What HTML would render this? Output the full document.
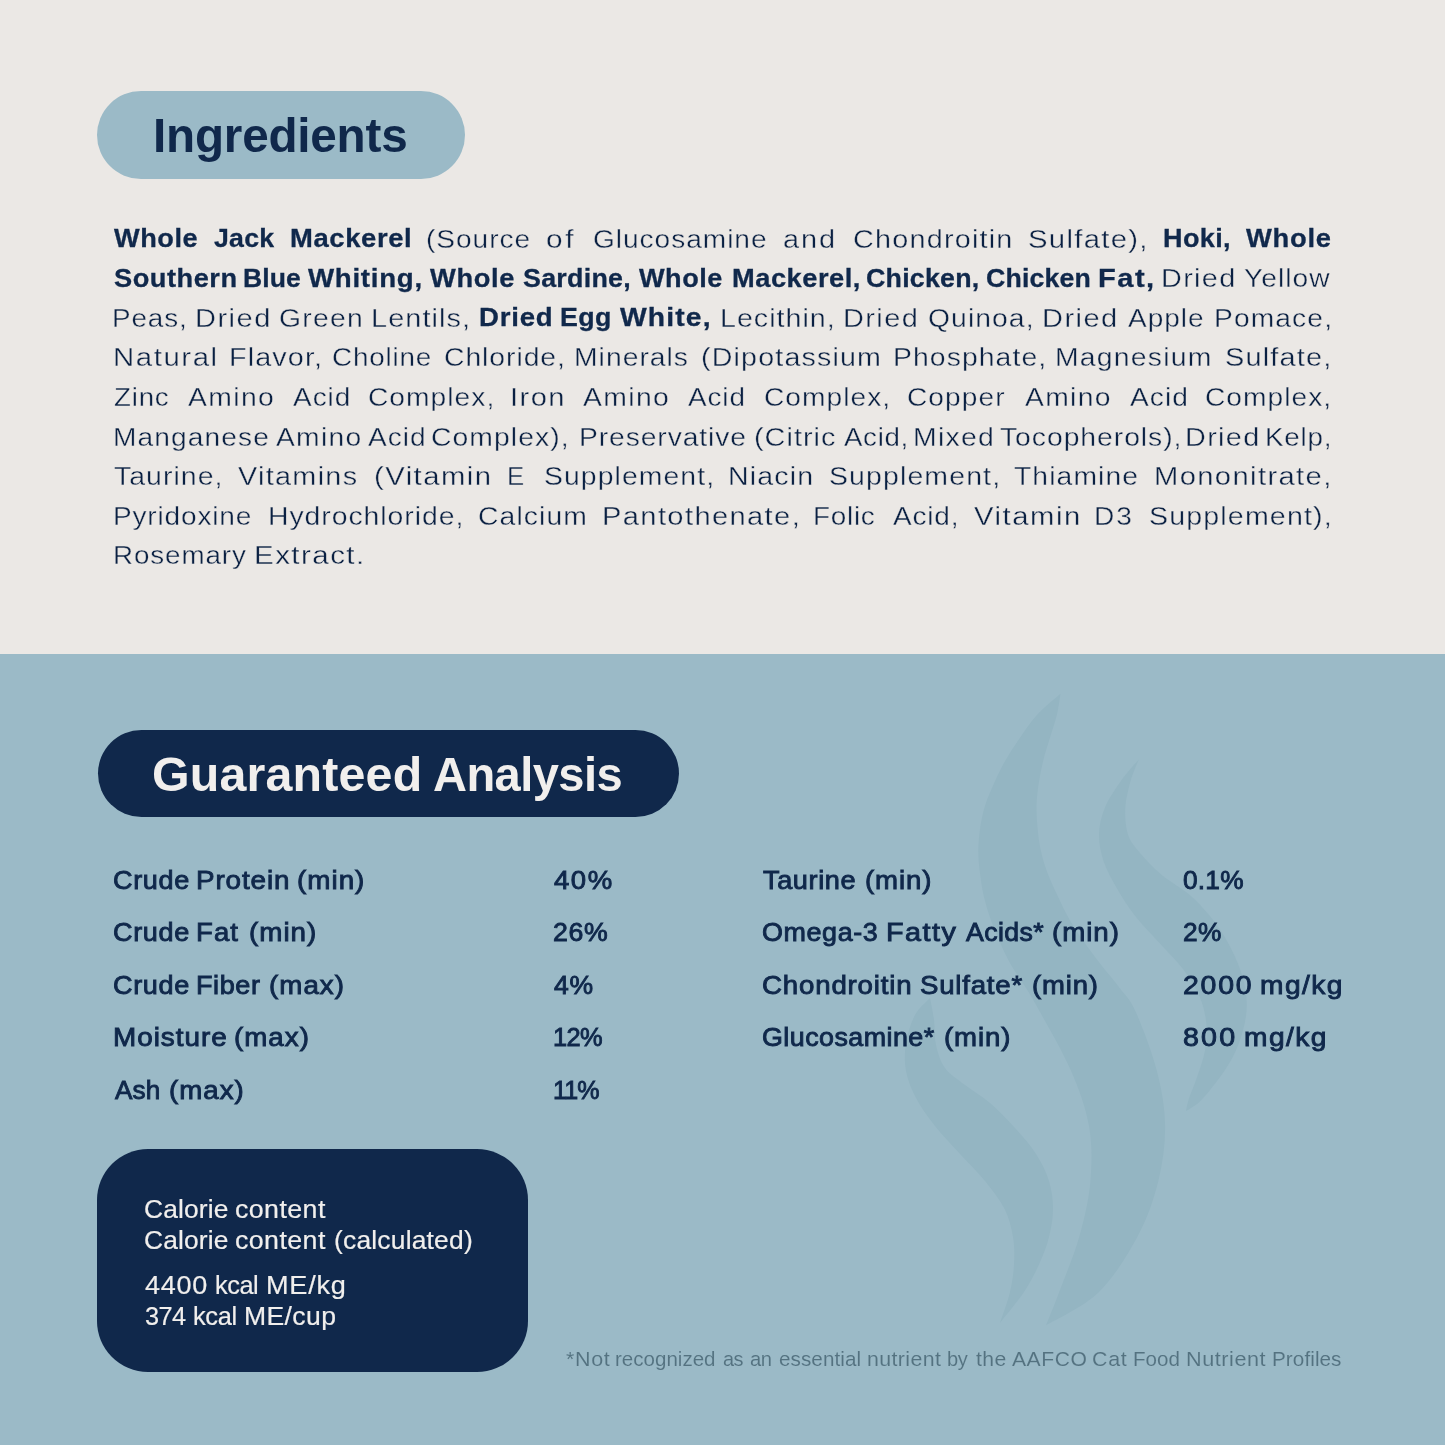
<!DOCTYPE html>
<html><head><meta charset="utf-8"><title>Ingredients</title>
<style>
html,body{margin:0;padding:0}
body{width:1445px;height:1445px;position:relative;overflow:hidden;background:#ebe8e5;font-family:"Liberation Sans",sans-serif;color:#10284b}
i{position:absolute;white-space:pre;line-height:1;font-style:normal;transform-origin:0 0;display:block}
div{position:absolute}
svg{position:absolute;left:0;top:0}

</style></head><body>
<div style="left:0;top:653.5px;width:1445px;height:791.5px;background:#9bbac7"></div>
<svg width="1445" height="1445" viewBox="0 0 1445 1445"><g fill="#94b5c2"><path d="M1060.5 693.7C1056.7 697.1 1044.3 707.1 1037.6 714.3C1030.9 721.5 1025.8 729.5 1020.5 737.1C1015.2 744.7 1010.1 752.3 1005.7 759.9C1001.3 767.5 997.7 775.2 994.3 782.8C990.9 790.4 987.5 798.0 985.1 805.6C982.7 813.2 981.2 820.8 980.1 828.4C979.0 836.0 978.3 843.7 978.3 851.3C978.3 858.9 979.1 866.5 980.1 874.1C981.1 881.7 982.2 889.4 984.0 897.0C985.8 904.6 988.1 912.2 990.8 919.8C993.5 927.4 996.6 935.0 1000.0 942.6C1003.4 950.2 1007.0 957.9 1011.4 965.5C1015.8 973.1 1021.4 980.5 1026.2 988.3C1031.0 996.0 1032.5 998.3 1040.0 1012.0C1047.5 1025.7 1062.8 1051.7 1071.0 1070.7C1079.2 1089.7 1085.8 1107.5 1089.0 1126.0C1092.2 1144.5 1092.0 1163.0 1090.4 1181.5C1088.8 1200.0 1084.4 1218.7 1079.3 1236.8C1074.2 1254.9 1065.5 1275.2 1060.0 1290.0C1054.5 1304.8 1048.3 1319.5 1046.0 1325.4C1054.8 1319.9 1083.5 1307.0 1098.7 1292.2C1113.9 1277.4 1127.5 1255.2 1137.4 1236.8C1147.3 1218.3 1153.6 1200.0 1158.2 1181.5C1162.8 1163.0 1165.3 1144.5 1165.1 1126.0C1164.9 1107.5 1161.7 1089.7 1156.8 1070.7C1151.9 1051.7 1141.9 1025.7 1135.8 1012.0C1129.7 998.3 1125.6 996.0 1119.9 988.3C1114.2 980.5 1107.5 973.1 1101.6 965.5C1095.7 957.9 1089.8 950.2 1084.5 942.6C1079.2 935.0 1074.0 927.4 1069.6 919.8C1065.2 912.2 1061.8 904.6 1058.2 897.0C1054.6 889.4 1050.8 881.7 1047.9 874.1C1045.0 866.5 1042.7 858.9 1041.0 851.3C1039.3 843.7 1038.3 836.0 1037.6 828.4C1036.8 820.8 1036.3 813.2 1036.5 805.6C1036.7 798.0 1037.6 790.4 1038.8 782.8C1040.0 775.2 1041.5 767.5 1043.4 759.9C1045.3 752.3 1047.9 744.7 1050.2 737.1C1052.5 729.5 1055.3 721.5 1057.0 714.3C1058.7 707.1 1059.9 697.1 1060.5 693.7Z"/><path d="M930.0 998.0C927.5 1000.8 919.0 1007.5 915.0 1015.0C911.0 1022.5 907.5 1033.7 906.0 1043.0C904.5 1052.3 904.3 1061.8 906.0 1071.0C907.7 1080.2 911.2 1088.8 916.0 1098.0C920.8 1107.2 927.7 1116.7 935.0 1126.0C942.3 1135.3 951.7 1144.8 960.0 1154.0C968.3 1163.2 977.6 1171.8 985.0 1181.0C992.4 1190.2 999.9 1199.7 1004.6 1209.0C1009.3 1218.3 1011.4 1227.8 1013.0 1237.0C1014.6 1246.2 1014.5 1255.3 1014.0 1264.5C1013.5 1273.7 1012.3 1282.2 1010.0 1292.0C1007.7 1301.8 1001.7 1317.8 1000.0 1323.0C1004.0 1317.8 1017.5 1301.8 1024.0 1292.0C1030.5 1282.2 1034.8 1273.7 1039.0 1264.5C1043.2 1255.3 1046.7 1246.2 1049.0 1237.0C1051.3 1227.8 1053.0 1218.3 1053.0 1209.0C1053.0 1199.7 1051.8 1190.2 1049.0 1181.0C1046.2 1171.8 1041.7 1162.8 1036.0 1154.0C1030.3 1145.2 1022.7 1136.5 1015.0 1128.0C1007.3 1119.5 998.3 1110.2 990.0 1103.0C981.7 1095.8 972.5 1090.8 965.0 1085.0C957.5 1079.2 949.8 1074.7 945.0 1068.0C940.2 1061.3 937.8 1053.0 936.0 1045.0C934.2 1037.0 935.0 1027.8 934.0 1020.0C933.0 1012.2 930.7 1001.7 930.0 998.0Z"/><path d="M1138.8 759.4C1135.9 762.9 1126.9 772.5 1121.3 780.5C1115.7 788.5 1108.7 798.5 1105.0 807.5C1101.3 816.5 1099.2 825.5 1099.0 834.5C1098.8 843.5 1100.7 852.5 1103.7 861.5C1106.7 870.5 1111.8 879.4 1117.0 888.4C1122.2 897.4 1127.8 906.4 1134.8 915.4C1141.8 924.4 1150.9 933.4 1159.0 942.4C1167.1 951.4 1176.6 960.4 1183.4 969.4C1190.2 978.4 1195.8 987.4 1199.6 996.4C1203.4 1005.4 1205.4 1014.4 1206.3 1023.4C1207.2 1032.4 1206.6 1041.4 1205.0 1050.4C1203.4 1059.4 1199.6 1069.3 1196.9 1077.4C1194.2 1085.5 1190.6 1093.4 1188.8 1099.0C1187.0 1104.6 1186.5 1109.0 1186.0 1111.0C1188.3 1109.5 1194.6 1106.4 1199.6 1101.7C1204.5 1097.0 1210.3 1090.0 1215.7 1082.8C1221.1 1075.6 1227.5 1067.0 1232.0 1058.5C1236.5 1050.0 1240.2 1040.5 1242.7 1031.5C1245.2 1022.5 1246.8 1013.5 1246.8 1004.5C1246.8 995.5 1245.2 986.5 1242.7 977.5C1240.2 968.5 1236.5 959.5 1232.0 950.5C1227.5 941.5 1222.5 932.5 1215.7 923.5C1209.0 914.5 1200.5 904.6 1191.5 896.5C1182.5 888.4 1170.4 882.2 1161.8 875.0C1153.2 867.8 1145.6 859.8 1140.0 853.0C1134.4 846.2 1130.5 842.1 1128.0 834.5C1125.5 826.9 1124.8 816.5 1125.3 807.5C1125.8 798.5 1128.5 788.5 1130.7 780.5C1133.0 772.5 1137.5 762.9 1138.8 759.4Z"/></g></svg>
<div style="left:97px;top:91px;width:368px;height:87.5px;border-radius:44px;background:#9bbac7"></div>
<div style="left:97.5px;top:729.7px;width:581.5px;height:87.8px;border-radius:44px;background:#10284b"></div>
<div style="left:96.5px;top:1149.3px;width:431px;height:222.5px;border-radius:51px;background:#10284b"></div>
<div id="t" style="left:0;top:0;width:1445px;height:1445px;will-change:transform">
<i style="left:152.62px;top:111.97px;font-size:48px;transform:scaleX(0.9921);letter-spacing:-0.202px;color:#10284b;font-weight:700;">Ingredients</i>
<i style="left:114.35px;top:225.20px;font-size:26.4px;transform:scaleX(1.0281);letter-spacing:0.537px;color:#10284b;font-weight:700;-webkit-text-stroke:0.3px #10284b;">Whole</i>
<i style="left:214.45px;top:225.20px;font-size:26.4px;transform:scaleX(1.0116);letter-spacing:0.225px;color:#10284b;font-weight:700;-webkit-text-stroke:0.3px #10284b;">Jack</i>
<i style="left:289.51px;top:225.20px;font-size:26.4px;transform:scaleX(1.0391);letter-spacing:0.595px;color:#10284b;font-weight:700;-webkit-text-stroke:0.3px #10284b;">Mackerel</i>
<i style="left:425.56px;top:225.53px;font-size:26.4px;transform:scaleX(1.0635);letter-spacing:0.903px;color:#0a2042;-webkit-text-stroke:0.35px #ebe8e5;">(Source</i>
<i style="left:546.00px;top:225.53px;font-size:26.4px;transform:scaleX(1.1285);letter-spacing:2.469px;color:#0a2042;-webkit-text-stroke:0.35px #ebe8e5;">of</i>
<i style="left:592.56px;top:225.53px;font-size:26.4px;transform:scaleX(1.0637);letter-spacing:0.913px;color:#0a2042;-webkit-text-stroke:0.35px #ebe8e5;">Glucosamine</i>
<i style="left:782.93px;top:225.53px;font-size:26.4px;transform:scaleX(1.0943);letter-spacing:1.781px;color:#0a2042;-webkit-text-stroke:0.35px #ebe8e5;">and</i>
<i style="left:852.63px;top:225.53px;font-size:26.4px;transform:scaleX(1.0913);letter-spacing:1.107px;color:#0a2042;-webkit-text-stroke:0.35px #ebe8e5;">Chondroitin</i>
<i style="left:1028.32px;top:225.53px;font-size:26.4px;transform:scaleX(1.1095);letter-spacing:1.172px;color:#0a2042;-webkit-text-stroke:0.35px #ebe8e5;">Sulfate),</i>
<i style="left:1163.13px;top:225.20px;font-size:26.4px;transform:scaleX(1.0242);letter-spacing:0.368px;color:#10284b;font-weight:700;-webkit-text-stroke:0.3px #10284b;">Hoki,</i>
<i style="left:1245.65px;top:225.20px;font-size:26.4px;transform:scaleX(1.0364);letter-spacing:0.690px;color:#10284b;font-weight:700;-webkit-text-stroke:0.3px #10284b;">Whole</i>
<i style="left:114.35px;top:264.82px;font-size:26.4px;transform:scaleX(1.0314);letter-spacing:0.499px;color:#10284b;font-weight:700;-webkit-text-stroke:0.3px #10284b;">Southern</i>
<i style="left:243.05px;top:264.82px;font-size:26.4px;transform:scaleX(1.0044);letter-spacing:0.081px;color:#10284b;font-weight:700;-webkit-text-stroke:0.3px #10284b;">Blue</i>
<i style="left:308.15px;top:264.82px;font-size:26.4px;transform:scaleX(1.0486);letter-spacing:0.680px;color:#10284b;font-weight:700;-webkit-text-stroke:0.3px #10284b;">Whiting,</i>
<i style="left:430.15px;top:264.82px;font-size:26.4px;transform:scaleX(1.0332);letter-spacing:0.631px;color:#10284b;font-weight:700;-webkit-text-stroke:0.3px #10284b;">Whole</i>
<i style="left:523.15px;top:264.82px;font-size:26.4px;transform:scaleX(1.0175);letter-spacing:0.253px;color:#10284b;font-weight:700;-webkit-text-stroke:0.3px #10284b;">Sardine,</i>
<i style="left:639.15px;top:264.82px;font-size:26.4px;transform:scaleX(1.0269);letter-spacing:0.513px;color:#10284b;font-weight:700;-webkit-text-stroke:0.3px #10284b;">Whole</i>
<i style="left:731.82px;top:264.82px;font-size:26.4px;transform:scaleX(1.0336);letter-spacing:0.479px;color:#10284b;font-weight:700;-webkit-text-stroke:0.3px #10284b;">Mackerel,</i>
<i style="left:866.34px;top:264.82px;font-size:26.4px;transform:scaleX(1.0146);letter-spacing:0.221px;color:#10284b;font-weight:700;-webkit-text-stroke:0.3px #10284b;">Chicken,</i>
<i style="left:986.14px;top:264.82px;font-size:26.4px;transform:scaleX(1.0107);letter-spacing:0.178px;color:#10284b;font-weight:700;-webkit-text-stroke:0.3px #10284b;">Chicken</i>
<i style="left:1097.65px;top:264.82px;font-size:26.4px;transform:scaleX(1.1011);letter-spacing:1.364px;color:#10284b;font-weight:700;-webkit-text-stroke:0.3px #10284b;">Fat,</i>
<i style="left:1160.64px;top:265.15px;font-size:26.4px;transform:scaleX(1.0906);letter-spacing:1.234px;color:#0a2042;-webkit-text-stroke:0.35px #ebe8e5;">Dried</i>
<i style="left:1243.62px;top:265.15px;font-size:26.4px;transform:scaleX(1.0675);letter-spacing:0.964px;color:#0a2042;-webkit-text-stroke:0.35px #ebe8e5;">Yellow</i>
<i style="left:111.91px;top:304.77px;font-size:26.4px;transform:scaleX(1.0554);letter-spacing:0.829px;color:#0a2042;-webkit-text-stroke:0.35px #ebe8e5;">Peas,</i>
<i style="left:195.03px;top:304.77px;font-size:26.4px;transform:scaleX(1.0999);letter-spacing:1.348px;color:#0a2042;-webkit-text-stroke:0.35px #ebe8e5;">Dried</i>
<i style="left:279.45px;top:304.77px;font-size:26.4px;transform:scaleX(1.0727);letter-spacing:1.198px;color:#0a2042;-webkit-text-stroke:0.35px #ebe8e5;">Green</i>
<i style="left:371.34px;top:304.77px;font-size:26.4px;transform:scaleX(1.0944);letter-spacing:0.977px;color:#0a2042;-webkit-text-stroke:0.35px #ebe8e5;">Lentils,</i>
<i style="left:479.10px;top:304.44px;font-size:26.4px;transform:scaleX(1.0464);letter-spacing:0.724px;color:#10284b;font-weight:700;-webkit-text-stroke:0.3px #10284b;">Dried</i>
<i style="left:559.74px;top:304.44px;font-size:26.4px;transform:scaleX(1.0144);letter-spacing:0.339px;color:#10284b;font-weight:700;-webkit-text-stroke:0.3px #10284b;">Egg</i>
<i style="left:620.15px;top:304.44px;font-size:26.4px;transform:scaleX(1.0724);letter-spacing:1.051px;color:#10284b;font-weight:700;-webkit-text-stroke:0.3px #10284b;">White,</i>
<i style="left:720.35px;top:304.77px;font-size:26.4px;transform:scaleX(1.0851);letter-spacing:0.921px;color:#0a2042;-webkit-text-stroke:0.35px #ebe8e5;">Lecithin,</i>
<i style="left:843.23px;top:304.77px;font-size:26.4px;transform:scaleX(1.0957);letter-spacing:1.296px;color:#0a2042;-webkit-text-stroke:0.35px #ebe8e5;">Dried</i>
<i style="left:928.35px;top:304.77px;font-size:26.4px;transform:scaleX(1.0721);letter-spacing:0.999px;color:#0a2042;-webkit-text-stroke:0.35px #ebe8e5;">Quinoa,</i>
<i style="left:1042.13px;top:304.77px;font-size:26.4px;transform:scaleX(1.0982);letter-spacing:1.328px;color:#0a2042;-webkit-text-stroke:0.35px #ebe8e5;">Dried</i>
<i style="left:1128.33px;top:304.77px;font-size:26.4px;transform:scaleX(1.0601);letter-spacing:0.947px;color:#0a2042;-webkit-text-stroke:0.35px #ebe8e5;">Apple</i>
<i style="left:1213.89px;top:304.77px;font-size:26.4px;transform:scaleX(1.0678);letter-spacing:1.056px;color:#0a2042;-webkit-text-stroke:0.35px #ebe8e5;">Pomace,</i>
<i style="left:112.60px;top:344.39px;font-size:26.4px;transform:scaleX(1.1140);letter-spacing:1.402px;color:#0a2042;-webkit-text-stroke:0.35px #ebe8e5;">Natural</i>
<i style="left:228.84px;top:344.39px;font-size:26.4px;transform:scaleX(1.0901);letter-spacing:1.031px;color:#0a2042;-webkit-text-stroke:0.35px #ebe8e5;">Flavor,</i>
<i style="left:332.27px;top:344.39px;font-size:26.4px;transform:scaleX(1.0543);letter-spacing:0.754px;color:#0a2042;-webkit-text-stroke:0.35px #ebe8e5;">Choline</i>
<i style="left:444.25px;top:344.39px;font-size:26.4px;transform:scaleX(1.0737);letter-spacing:0.877px;color:#0a2042;-webkit-text-stroke:0.35px #ebe8e5;">Chloride,</i>
<i style="left:574.18px;top:344.39px;font-size:26.4px;transform:scaleX(1.0724);letter-spacing:0.941px;color:#0a2042;-webkit-text-stroke:0.35px #ebe8e5;">Minerals</i>
<i style="left:700.84px;top:344.39px;font-size:26.4px;transform:scaleX(1.0847);letter-spacing:1.079px;color:#0a2042;-webkit-text-stroke:0.35px #ebe8e5;">(Dipotassium</i>
<i style="left:893.08px;top:344.39px;font-size:26.4px;transform:scaleX(1.0745);letter-spacing:0.996px;color:#0a2042;-webkit-text-stroke:0.35px #ebe8e5;">Phosphate,</i>
<i style="left:1055.48px;top:344.39px;font-size:26.4px;transform:scaleX(1.0739);letter-spacing:1.148px;color:#0a2042;-webkit-text-stroke:0.35px #ebe8e5;">Magnesium</i>
<i style="left:1224.93px;top:344.39px;font-size:26.4px;transform:scaleX(1.0957);letter-spacing:1.075px;color:#0a2042;-webkit-text-stroke:0.35px #ebe8e5;">Sulfate,</i>
<i style="left:113.83px;top:384.01px;font-size:26.4px;transform:scaleX(1.0482);letter-spacing:0.761px;color:#0a2042;-webkit-text-stroke:0.35px #ebe8e5;">Zinc</i>
<i style="left:187.82px;top:384.01px;font-size:26.4px;transform:scaleX(1.0737);letter-spacing:1.272px;color:#0a2042;-webkit-text-stroke:0.35px #ebe8e5;">Amino</i>
<i style="left:293.12px;top:384.01px;font-size:26.4px;transform:scaleX(1.0593);letter-spacing:0.927px;color:#0a2042;-webkit-text-stroke:0.35px #ebe8e5;">Acid</i>
<i style="left:368.46px;top:384.01px;font-size:26.4px;transform:scaleX(1.0671);letter-spacing:0.972px;color:#0a2042;-webkit-text-stroke:0.35px #ebe8e5;">Complex,</i>
<i style="left:510.22px;top:384.01px;font-size:26.4px;transform:scaleX(1.1035);letter-spacing:1.307px;color:#0a2042;-webkit-text-stroke:0.35px #ebe8e5;">Iron</i>
<i style="left:583.03px;top:384.01px;font-size:26.4px;transform:scaleX(1.0737);letter-spacing:1.272px;color:#0a2042;-webkit-text-stroke:0.35px #ebe8e5;">Amino</i>
<i style="left:688.33px;top:384.01px;font-size:26.4px;transform:scaleX(1.0553);letter-spacing:0.867px;color:#0a2042;-webkit-text-stroke:0.35px #ebe8e5;">Acid</i>
<i style="left:763.66px;top:384.01px;font-size:26.4px;transform:scaleX(1.0667);letter-spacing:0.965px;color:#0a2042;-webkit-text-stroke:0.35px #ebe8e5;">Complex,</i>
<i style="left:906.96px;top:384.01px;font-size:26.4px;transform:scaleX(1.0634);letter-spacing:1.023px;color:#0a2042;-webkit-text-stroke:0.35px #ebe8e5;">Copper</i>
<i style="left:1025.42px;top:384.01px;font-size:26.4px;transform:scaleX(1.0717);letter-spacing:1.239px;color:#0a2042;-webkit-text-stroke:0.35px #ebe8e5;">Amino</i>
<i style="left:1129.73px;top:384.01px;font-size:26.4px;transform:scaleX(1.0653);letter-spacing:1.015px;color:#0a2042;-webkit-text-stroke:0.35px #ebe8e5;">Acid</i>
<i style="left:1205.06px;top:384.01px;font-size:26.4px;transform:scaleX(1.0667);letter-spacing:0.965px;color:#0a2042;-webkit-text-stroke:0.35px #ebe8e5;">Complex,</i>
<i style="left:112.69px;top:423.63px;font-size:26.4px;transform:scaleX(1.0658);letter-spacing:1.044px;color:#0a2042;-webkit-text-stroke:0.35px #ebe8e5;">Manganese</i>
<i style="left:275.82px;top:423.63px;font-size:26.4px;transform:scaleX(1.0696);letter-spacing:1.206px;color:#0a2042;-webkit-text-stroke:0.35px #ebe8e5;">Amino</i>
<i style="left:368.22px;top:423.63px;font-size:26.4px;transform:scaleX(1.0623);letter-spacing:0.971px;color:#0a2042;-webkit-text-stroke:0.35px #ebe8e5;">Acid</i>
<i style="left:430.95px;top:423.63px;font-size:26.4px;transform:scaleX(1.0728);letter-spacing:0.992px;color:#0a2042;-webkit-text-stroke:0.35px #ebe8e5;">Complex),</i>
<i style="left:579.19px;top:423.63px;font-size:26.4px;transform:scaleX(1.0700);letter-spacing:0.856px;color:#0a2042;-webkit-text-stroke:0.35px #ebe8e5;">Preservative</i>
<i style="left:754.03px;top:423.63px;font-size:26.4px;transform:scaleX(1.0913);letter-spacing:0.944px;color:#0a2042;-webkit-text-stroke:0.35px #ebe8e5;">(Citric</i>
<i style="left:843.83px;top:423.63px;font-size:26.4px;transform:scaleX(1.0480);letter-spacing:0.645px;color:#0a2042;-webkit-text-stroke:0.35px #ebe8e5;">Acid,</i>
<i style="left:912.87px;top:423.63px;font-size:26.4px;transform:scaleX(1.0752);letter-spacing:1.166px;color:#0a2042;-webkit-text-stroke:0.35px #ebe8e5;">Mixed</i>
<i style="left:999.62px;top:423.63px;font-size:26.4px;transform:scaleX(1.0732);letter-spacing:0.888px;color:#0a2042;-webkit-text-stroke:0.35px #ebe8e5;">Tocopherols),</i>
<i style="left:1184.94px;top:423.63px;font-size:26.4px;transform:scaleX(1.0906);letter-spacing:1.234px;color:#0a2042;-webkit-text-stroke:0.35px #ebe8e5;">Dried</i>
<i style="left:1264.72px;top:423.63px;font-size:26.4px;transform:scaleX(1.0540);letter-spacing:0.715px;color:#0a2042;-webkit-text-stroke:0.35px #ebe8e5;">Kelp,</i>
<i style="left:113.83px;top:463.25px;font-size:26.4px;transform:scaleX(1.0786);letter-spacing:0.953px;color:#0a2042;-webkit-text-stroke:0.35px #ebe8e5;">Taurine,</i>
<i style="left:237.72px;top:463.25px;font-size:26.4px;transform:scaleX(1.0912);letter-spacing:1.200px;color:#0a2042;-webkit-text-stroke:0.35px #ebe8e5;">Vitamins</i>
<i style="left:374.42px;top:463.25px;font-size:26.4px;transform:scaleX(1.1085);letter-spacing:1.309px;color:#0a2042;-webkit-text-stroke:0.35px #ebe8e5;">(Vitamin</i>
<i style="left:507.07px;top:463.25px;font-size:26.4px;transform:scaleX(0.9767);letter-spacing:0.000px;color:#0a2042;-webkit-text-stroke:0.35px #ebe8e5;">E</i>
<i style="left:543.75px;top:463.25px;font-size:26.4px;transform:scaleX(1.0746);letter-spacing:1.005px;color:#0a2042;-webkit-text-stroke:0.35px #ebe8e5;">Supplement,</i>
<i style="left:727.66px;top:463.25px;font-size:26.4px;transform:scaleX(1.0818);letter-spacing:1.053px;color:#0a2042;-webkit-text-stroke:0.35px #ebe8e5;">Niacin</i>
<i style="left:829.45px;top:463.25px;font-size:26.4px;transform:scaleX(1.0780);letter-spacing:1.048px;color:#0a2042;-webkit-text-stroke:0.35px #ebe8e5;">Supplement,</i>
<i style="left:1014.43px;top:463.25px;font-size:26.4px;transform:scaleX(1.0713);letter-spacing:1.026px;color:#0a2042;-webkit-text-stroke:0.35px #ebe8e5;">Thiamine</i>
<i style="left:1154.01px;top:463.25px;font-size:26.4px;transform:scaleX(1.1057);letter-spacing:1.237px;color:#0a2042;-webkit-text-stroke:0.35px #ebe8e5;">Mononitrate,</i>
<i style="left:112.70px;top:502.87px;font-size:26.4px;transform:scaleX(1.0619);letter-spacing:0.780px;color:#0a2042;-webkit-text-stroke:0.35px #ebe8e5;">Pyridoxine</i>
<i style="left:267.78px;top:502.87px;font-size:26.4px;transform:scaleX(1.0749);letter-spacing:0.889px;color:#0a2042;-webkit-text-stroke:0.35px #ebe8e5;">Hydrochloride,</i>
<i style="left:478.15px;top:502.87px;font-size:26.4px;transform:scaleX(1.0719);letter-spacing:1.043px;color:#0a2042;-webkit-text-stroke:0.35px #ebe8e5;">Calcium</i>
<i style="left:602.42px;top:502.87px;font-size:26.4px;transform:scaleX(1.1029);letter-spacing:1.244px;color:#0a2042;-webkit-text-stroke:0.35px #ebe8e5;">Pantothenate,</i>
<i style="left:813.41px;top:502.87px;font-size:26.4px;transform:scaleX(1.0554);letter-spacing:0.702px;color:#0a2042;-webkit-text-stroke:0.35px #ebe8e5;">Folic</i>
<i style="left:892.62px;top:502.87px;font-size:26.4px;transform:scaleX(1.0596);letter-spacing:0.792px;color:#0a2042;-webkit-text-stroke:0.35px #ebe8e5;">Acid,</i>
<i style="left:973.53px;top:502.87px;font-size:26.4px;transform:scaleX(1.1078);letter-spacing:1.392px;color:#0a2042;-webkit-text-stroke:0.35px #ebe8e5;">Vitamin</i>
<i style="left:1094.39px;top:502.87px;font-size:26.4px;transform:scaleX(1.0659);letter-spacing:1.919px;color:#0a2042;-webkit-text-stroke:0.35px #ebe8e5;">D3</i>
<i style="left:1148.54px;top:502.87px;font-size:26.4px;transform:scaleX(1.0827);letter-spacing:1.067px;color:#0a2042;-webkit-text-stroke:0.35px #ebe8e5;">Supplement),</i>
<i style="left:112.72px;top:542.49px;font-size:26.4px;transform:scaleX(1.0525);letter-spacing:0.848px;color:#0a2042;-webkit-text-stroke:0.35px #ebe8e5;">Rosemary</i>
<i style="left:254.39px;top:542.49px;font-size:26.4px;transform:scaleX(1.1188);letter-spacing:1.291px;color:#0a2042;-webkit-text-stroke:0.35px #ebe8e5;">Extract.</i>
<i style="left:152.29px;top:750.97px;font-size:48px;transform:scaleX(1.0064);letter-spacing:0.186px;color:#f1efed;font-weight:700;">Guaranteed</i>
<i style="left:433.02px;top:750.97px;font-size:48px;transform:scaleX(0.9801);letter-spacing:-0.564px;color:#f1efed;font-weight:700;">Analysis</i>
<i style="left:113.41px;top:866.94px;font-size:26px;transform:scaleX(1.0393);letter-spacing:0.655px;color:#10284b;-webkit-text-stroke:0.9px #10284b;">Crude</i>
<i style="left:196.31px;top:866.94px;font-size:26px;transform:scaleX(1.0689);letter-spacing:0.848px;color:#10284b;-webkit-text-stroke:0.9px #10284b;">Protein</i>
<i style="left:296.98px;top:866.94px;font-size:26px;transform:scaleX(1.0699);letter-spacing:0.940px;color:#10284b;-webkit-text-stroke:0.9px #10284b;">(min)</i>
<i style="left:553.65px;top:866.94px;font-size:26px;transform:scaleX(1.0586);letter-spacing:1.436px;color:#10284b;-webkit-text-stroke:0.9px #10284b;">40%</i>
<i style="left:113.41px;top:919.44px;font-size:26px;transform:scaleX(1.0393);letter-spacing:0.655px;color:#10284b;-webkit-text-stroke:0.9px #10284b;">Crude</i>
<i style="left:196.33px;top:919.44px;font-size:26px;transform:scaleX(1.0586);letter-spacing:1.006px;color:#10284b;-webkit-text-stroke:0.9px #10284b;">Fat</i>
<i style="left:248.88px;top:919.44px;font-size:26px;transform:scaleX(1.0690);letter-spacing:0.929px;color:#10284b;-webkit-text-stroke:0.9px #10284b;">(min)</i>
<i style="left:552.62px;top:919.44px;font-size:26px;transform:scaleX(1.0263);letter-spacing:0.653px;color:#10284b;-webkit-text-stroke:0.9px #10284b;">26%</i>
<i style="left:113.41px;top:971.84px;font-size:26px;transform:scaleX(1.0393);letter-spacing:0.655px;color:#10284b;-webkit-text-stroke:0.9px #10284b;">Crude</i>
<i style="left:196.37px;top:971.84px;font-size:26px;transform:scaleX(1.0401);letter-spacing:0.555px;color:#10284b;-webkit-text-stroke:0.9px #10284b;">Fiber</i>
<i style="left:269.48px;top:971.84px;font-size:26px;transform:scaleX(1.0650);letter-spacing:0.989px;color:#10284b;-webkit-text-stroke:0.9px #10284b;">(max)</i>
<i style="left:553.65px;top:971.84px;font-size:26px;transform:scaleX(1.0206);letter-spacing:0.755px;color:#10284b;-webkit-text-stroke:0.9px #10284b;">4%</i>
<i style="left:112.51px;top:1024.04px;font-size:26px;transform:scaleX(1.0713);letter-spacing:0.924px;color:#10284b;-webkit-text-stroke:0.9px #10284b;">Moisture</i>
<i style="left:234.39px;top:1024.04px;font-size:26px;transform:scaleX(1.0642);letter-spacing:0.978px;color:#10284b;-webkit-text-stroke:0.9px #10284b;">(max)</i>
<i style="left:552.67px;top:1024.04px;font-size:26px;transform:scaleX(0.9772);letter-spacing:-0.594px;color:#10284b;-webkit-text-stroke:0.9px #10284b;">12%</i>
<i style="left:114.65px;top:1076.54px;font-size:26px;transform:scaleX(1.0053);letter-spacing:0.114px;color:#10284b;-webkit-text-stroke:0.9px #10284b;">Ash</i>
<i style="left:169.39px;top:1076.54px;font-size:26px;transform:scaleX(1.0635);letter-spacing:0.967px;color:#10284b;-webkit-text-stroke:0.9px #10284b;">(max)</i>
<i style="left:552.69px;top:1076.54px;font-size:26px;transform:scaleX(0.9644);letter-spacing:-0.905px;color:#10284b;-webkit-text-stroke:0.9px #10284b;">11%</i>
<i style="left:763.15px;top:866.94px;font-size:26px;transform:scaleX(1.0429);letter-spacing:0.582px;color:#10284b;-webkit-text-stroke:0.9px #10284b;">Taurine</i>
<i style="left:864.79px;top:866.94px;font-size:26px;transform:scaleX(1.0621);letter-spacing:0.841px;color:#10284b;-webkit-text-stroke:0.9px #10284b;">(min)</i>
<i style="left:1183.14px;top:866.94px;font-size:26px;transform:scaleX(1.0108);letter-spacing:0.207px;color:#10284b;-webkit-text-stroke:0.9px #10284b;">0.1%</i>
<i style="left:762.12px;top:919.44px;font-size:26px;transform:scaleX(1.0340);letter-spacing:0.587px;color:#10284b;-webkit-text-stroke:0.9px #10284b;">Omega-3</i>
<i style="left:885.84px;top:919.44px;font-size:26px;transform:scaleX(1.1067);letter-spacing:1.345px;color:#10284b;-webkit-text-stroke:0.9px #10284b;">Fatty</i>
<i style="left:965.55px;top:919.44px;font-size:26px;transform:scaleX(1.0267);letter-spacing:0.382px;color:#10284b;-webkit-text-stroke:0.9px #10284b;">Acids*</i>
<i style="left:1052.18px;top:919.44px;font-size:26px;transform:scaleX(1.0656);letter-spacing:0.885px;color:#10284b;-webkit-text-stroke:0.9px #10284b;">(min)</i>
<i style="left:1183.14px;top:919.44px;font-size:26px;transform:scaleX(1.0101);letter-spacing:0.366px;color:#10284b;-webkit-text-stroke:0.9px #10284b;">2%</i>
<i style="left:762.09px;top:971.84px;font-size:26px;transform:scaleX(1.0632);letter-spacing:0.775px;color:#10284b;-webkit-text-stroke:0.9px #10284b;">Chondroitin</i>
<i style="left:920.19px;top:971.84px;font-size:26px;transform:scaleX(1.0615);letter-spacing:0.744px;color:#10284b;-webkit-text-stroke:0.9px #10284b;">Sulfate*</i>
<i style="left:1032.19px;top:971.84px;font-size:26px;transform:scaleX(1.0577);letter-spacing:0.786px;color:#10284b;-webkit-text-stroke:0.9px #10284b;">(min)</i>
<i style="left:1183.06px;top:971.84px;font-size:26px;transform:scaleX(1.0933);letter-spacing:1.604px;color:#10284b;-webkit-text-stroke:0.9px #10284b;">2000</i>
<i style="left:1259.77px;top:971.84px;font-size:26px;transform:scaleX(1.0831);letter-spacing:1.311px;color:#10284b;-webkit-text-stroke:0.9px #10284b;">mg/kg</i>
<i style="left:762.42px;top:1024.04px;font-size:26px;transform:scaleX(1.0319);letter-spacing:0.452px;color:#10284b;-webkit-text-stroke:0.9px #10284b;">Glucosamine*</i>
<i style="left:943.99px;top:1024.04px;font-size:26px;transform:scaleX(1.0612);letter-spacing:0.830px;color:#10284b;-webkit-text-stroke:0.9px #10284b;">(min)</i>
<i style="left:1183.05px;top:1024.04px;font-size:26px;transform:scaleX(1.1023);letter-spacing:1.946px;color:#10284b;-webkit-text-stroke:0.9px #10284b;">800</i>
<i style="left:1244.27px;top:1024.04px;font-size:26px;transform:scaleX(1.0831);letter-spacing:1.311px;color:#10284b;-webkit-text-stroke:0.9px #10284b;">mg/kg</i>
<i style="left:143.89px;top:1195.99px;font-size:26px;transform:scaleX(1.0123);letter-spacing:0.164px;color:#f1efed;-webkit-text-stroke:0.2px #f1efed;">Calorie</i>
<i style="left:235.27px;top:1195.99px;font-size:26px;transform:scaleX(1.0296);letter-spacing:0.408px;color:#f1efed;-webkit-text-stroke:0.2px #f1efed;">content</i>
<i style="left:143.89px;top:1226.89px;font-size:26px;transform:scaleX(1.0123);letter-spacing:0.164px;color:#f1efed;-webkit-text-stroke:0.2px #f1efed;">Calorie</i>
<i style="left:235.27px;top:1226.89px;font-size:26px;transform:scaleX(1.0296);letter-spacing:0.408px;color:#f1efed;-webkit-text-stroke:0.2px #f1efed;">content</i>
<i style="left:333.88px;top:1226.89px;font-size:26px;transform:scaleX(1.0161);letter-spacing:0.191px;color:#f1efed;-webkit-text-stroke:0.2px #f1efed;">(calculated)</i>
<i style="left:144.90px;top:1271.69px;font-size:26px;transform:scaleX(1.0394);letter-spacing:0.725px;color:#f1efed;-webkit-text-stroke:0.2px #f1efed;">4400</i>
<i style="left:214.73px;top:1271.69px;font-size:26px;transform:scaleX(0.9723);letter-spacing:-0.422px;color:#f1efed;-webkit-text-stroke:0.2px #f1efed;">kcal</i>
<i style="left:265.71px;top:1271.69px;font-size:26px;transform:scaleX(1.0426);letter-spacing:0.717px;color:#f1efed;-webkit-text-stroke:0.2px #f1efed;">ME/kg</i>
<i style="left:144.90px;top:1302.89px;font-size:26px;transform:scaleX(0.9741);letter-spacing:-0.570px;color:#f1efed;-webkit-text-stroke:0.2px #f1efed;">374</i>
<i style="left:192.72px;top:1302.89px;font-size:26px;transform:scaleX(0.9768);letter-spacing:-0.351px;color:#f1efed;-webkit-text-stroke:0.2px #f1efed;">kcal</i>
<i style="left:243.56px;top:1302.89px;font-size:26px;transform:scaleX(1.0217);letter-spacing:0.364px;color:#f1efed;-webkit-text-stroke:0.2px #f1efed;">ME/cup</i>
<i style="left:565.85px;top:1348.60px;font-size:20.5px;transform:scaleX(1.0475);letter-spacing:0.607px;color:#547280;-webkit-text-stroke:0.1px #9bbac7;">*Not</i>
<i style="left:615.35px;top:1348.60px;font-size:20.5px;transform:scaleX(1.0011);letter-spacing:0.012px;color:#547280;-webkit-text-stroke:0.1px #9bbac7;">recognized</i>
<i style="left:722.65px;top:1348.60px;font-size:20.5px;transform:scaleX(0.9696);letter-spacing:-0.671px;color:#547280;-webkit-text-stroke:0.1px #9bbac7;">as</i>
<i style="left:750.25px;top:1348.60px;font-size:20.5px;transform:scaleX(0.9844);letter-spacing:-0.356px;color:#547280;-webkit-text-stroke:0.1px #9bbac7;">an</i>
<i style="left:779.15px;top:1348.60px;font-size:20.5px;transform:scaleX(1.0071);letter-spacing:0.071px;color:#547280;-webkit-text-stroke:0.1px #9bbac7;">essential</i>
<i style="left:867.11px;top:1348.60px;font-size:20.5px;transform:scaleX(1.0408);letter-spacing:0.379px;color:#547280;-webkit-text-stroke:0.1px #9bbac7;">nutrient</i>
<i style="left:947.37px;top:1348.60px;font-size:20.5px;transform:scaleX(0.9789);letter-spacing:-0.460px;color:#547280;-webkit-text-stroke:0.1px #9bbac7;">by</i>
<i style="left:975.95px;top:1348.60px;font-size:20.5px;transform:scaleX(1.0321);letter-spacing:0.437px;color:#547280;-webkit-text-stroke:0.1px #9bbac7;">the</i>
<i style="left:1012.35px;top:1348.60px;font-size:20.5px;transform:scaleX(1.0303);letter-spacing:0.513px;color:#547280;-webkit-text-stroke:0.1px #9bbac7;">AAFCO</i>
<i style="left:1091.71px;top:1348.60px;font-size:20.5px;transform:scaleX(1.0448);letter-spacing:0.669px;color:#547280;-webkit-text-stroke:0.1px #9bbac7;">Cat</i>
<i style="left:1133.25px;top:1348.60px;font-size:20.5px;transform:scaleX(1.0030);letter-spacing:0.046px;color:#547280;-webkit-text-stroke:0.1px #9bbac7;">Food</i>
<i style="left:1186.40px;top:1348.60px;font-size:20.5px;transform:scaleX(1.0543);letter-spacing:0.523px;color:#547280;-webkit-text-stroke:0.1px #9bbac7;">Nutrient</i>
<i style="left:1272.14px;top:1348.60px;font-size:20.5px;transform:scaleX(1.0081);letter-spacing:0.077px;color:#547280;-webkit-text-stroke:0.1px #9bbac7;">Profiles</i>
</div>
</body></html>
